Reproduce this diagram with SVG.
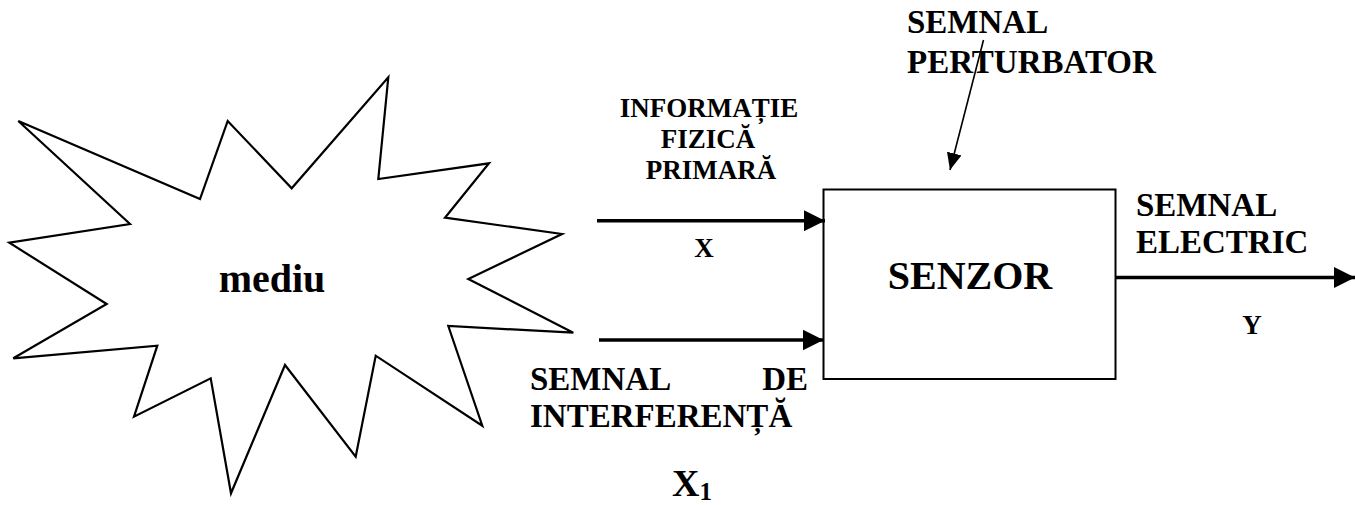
<svg xmlns="http://www.w3.org/2000/svg" width="1355" height="505" viewBox="0 0 1355 505">
<style>
text{font-family:"Liberation Serif","Times New Roman",serif;font-weight:bold;fill:#000}
.shape{fill:#fff;stroke:#000;stroke-width:2.2;stroke-linejoin:miter}
.thick{stroke:#000;stroke-width:3.5;fill:none}
.thin{stroke:#000;stroke-width:1.6;fill:none}
.t26{font-size:27px}
.t33{font-size:33px}
.mid{text-anchor:middle}
</style>
<defs>
<marker id="ah" markerUnits="userSpaceOnUse" markerWidth="21" markerHeight="21" refX="21" refY="10.5" orient="auto">
<path d="M0,0 L21,10.5 L0,21 z" fill="#000"/>
</marker>
<marker id="ahs" markerUnits="userSpaceOnUse" markerWidth="17" markerHeight="15" refX="17" refY="7.5" orient="auto">
<path d="M0,0 L17,7.5 L0,15 z" fill="#000"/>
</marker>
</defs>
<g id="mediu">
<polygon class="shape" points="18.3,121 130,224 9.3,242.7 106.7,304 13.3,358.3 157.3,345.7 134,416.7 210.7,378.3 231,493.3 285,365 355.7,456.7 375.7,355.7 482.3,425.7 448.3,326 573.3,332.7 468.3,279 562,234 445,217.7 489,163.3 378.3,179 388.3,77.3 291.7,188.3 227.7,121 200,199"/>
<text x="272" y="292" class="mid" style="font-size:40px">mediu</text>
</g>
<g id="senzor">
<rect x="823.5" y="189.5" width="292" height="189.5" fill="#fff" stroke="#000" stroke-width="2"/>
<text x="970" y="289" class="mid" style="font-size:40px">SENZOR</text>
</g>
<g id="label-informatie">
<text x="709" y="117" class="mid t26">INFORMAȚIE</text>
<text x="708" y="148" class="mid t26">FIZICĂ</text>
<text x="711" y="179" class="mid t26">PRIMARĂ</text>
<text x="704" y="257" class="mid t26">X</text>
</g>
<g id="label-interferenta">
<text x="530" y="390" class="t33">SEMNAL</text>
<text x="808" y="390" class="t33" text-anchor="end">DE</text>
<text x="530" y="427" class="t33">INTERFERENȚĂ</text>
<text x="672" y="496" style="font-size:38px">X<tspan dy="4" style="font-size:25px">1</tspan></text>
</g>
<g id="label-perturbator">
<text x="907" y="33" class="t33">SEMNAL</text>
<text x="907" y="73" class="t33">PERTURBATOR</text>
</g>
<g id="label-electric">
<text x="1136" y="216" class="t33">SEMNAL</text>
<text x="1136" y="253" class="t33">ELECTRIC</text>
<text x="1252" y="334" class="mid t26">Y</text>
</g>
<g id="connectors">
<line class="thick" x1="597" y1="220.7" x2="825" y2="220.7" marker-end="url(#ah)"/>
<line class="thick" x1="599" y1="340" x2="823.5" y2="340" marker-end="url(#ah)"/>
<line class="thick" x1="1116" y1="277.5" x2="1355" y2="277.5" marker-end="url(#ah)"/>
<line class="thin" x1="983.5" y1="40" x2="950" y2="170" marker-end="url(#ahs)"/>
</g>
</svg>
